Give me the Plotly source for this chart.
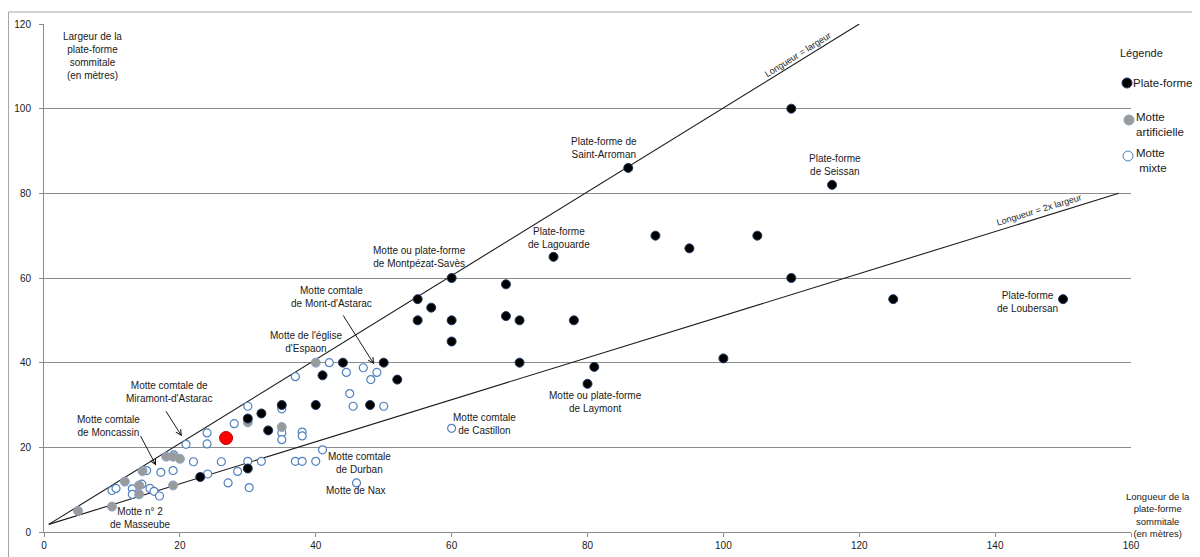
import plotly.graph_objects as go

# ---------------- data ----------------
plate_x = [86, 110, 116, 90, 95, 105, 110, 125, 100, 150, 75, 60, 68, 55, 57, 55, 60, 68, 70, 78,
           60, 70, 81, 80, 44, 50, 41, 52, 48, 40, 35, 32, 30, 33, 30, 23]
plate_y = [86, 100, 82, 70, 67, 70, 60, 55, 41, 55, 65, 60, 58.5, 55, 53, 50, 50, 51, 50, 50,
           45, 40, 39, 35, 40, 40, 37, 36, 30, 30, 30, 28, 26.8, 24, 15, 13]

artif_x = [5, 10, 11.9, 14, 14, 14.5, 18, 19, 20, 19, 30, 35, 40]
artif_y = [5, 6, 11.9, 11, 8.9, 14.4, 17.8, 17.8, 17.3, 11, 25.9, 24.8, 40]

mixte_x = [10, 10.6, 13, 13, 14.4, 15.6, 16.2, 17, 15.1, 17.2, 19, 19.1, 20.9, 22, 24, 24, 26.1,
           24.1, 27.1, 28.5, 28, 30.2, 42, 37, 44.5, 47, 49, 48.1, 45, 45.5, 50, 35, 30, 35, 35,
           38, 38, 41, 30, 32, 37, 38, 40, 46, 60]
mixte_y = [9.8, 10.3, 10.2, 8.9, 11.3, 10.3, 9.6, 8.5, 14.5, 14.1, 14.5, 18.2, 20.7, 16.6, 23.4,
           20.8, 16.6, 13.7, 11.6, 14.3, 25.6, 10.5, 40, 36.7, 37.7, 38.8, 37.7, 36, 32.7, 29.7,
           29.7, 29.1, 29.7, 23.4, 21.8, 23.6, 22.7, 19.4, 16.7, 16.7, 16.7, 16.7, 16.7, 11.6, 24.5]

red_x = [26.8]
red_y = [22.2]

# reference lines (hand-drawn in original)
ref1_x = [0.7, 120]
ref1_y = [1.8, 120]
ref2_x = [0.7, 158.2]
ref2_y = [1.8, 80]

x_ticks = [0, 20, 40, 60, 80, 100, 120, 140, 160]
y_ticks = [0, 20, 40, 60, 80, 100, 120]

# site labels: text, x, y
site_labels = [
    ("Plate-forme de<br>Saint-Arroman", 82.4, 90.6),
    ("Plate-forme<br>de Seissan", 116.5, 86.8),
    ("Motte ou plate-forme<br>de Montpézat-Savès", 55.2, 64.9),
    ("Plate-forme<br>de Lagouarde", 75.8, 69.4),
    ("Plate-forme<br>de Loubersan", 144.8, 54.4),
    ("Motte comtale<br>de Mont-d'Astarac", 42.3, 55.4),
    ("Motte de l'église<br>d'Espaon", 38.6, 45.0),
    ("Motte ou plate-forme<br>de Laymont", 81.2, 30.6),
    ("Motte comtale<br>de Castillon", 64.8, 25.6),
    ("Motte comtale de<br>Miramont-d'Astarac", 18.4, 33.0),
    ("Motte comtale<br>de Moncassin", 9.5, 25.1),
    ("Motte comtale<br>de Durban", 46.4, 16.4),
    ("Motte de Nax", 45.9, 9.8),
    ("Motte n° 2<br>de Masseube", 14.2, 3.3),
]

# arrows: tail(x,y) -> tip(x,y)
arrows = [
    (17.8, 28.9, 20.3, 22.6),
    (14.1, 23.0, 16.5, 15.7),
    (43.9, 51.5, 48.6, 39.6),
]

FONT = "Liberation Sans"
TXT = "#1a1a1a"
GRID = "#8c8c8c"

# figure geometry (page has an 8px body margin, so screen = figure + 8)
OFF = 8
W, H = 1200, 557
L, R, T, B = 36, 77, 16, 33
pw = W - L - R
ph = H - T - B


def px(p):
    return (p - OFF - L) / pw


def py(p):
    return (H - B - (p - OFF)) / ph


fig = go.Figure()

fig.add_trace(go.Scatter(x=ref1_x, y=ref1_y, mode="lines",
                         line=dict(color="#1a1a1a", width=1.1), showlegend=False, hoverinfo="skip"))
fig.add_trace(go.Scatter(x=ref2_x, y=ref2_y, mode="lines",
                         line=dict(color="#1a1a1a", width=1.1), showlegend=False, hoverinfo="skip"))

fig.add_trace(go.Scatter(x=mixte_x, y=mixte_y, mode="markers", name="Motte mixte",
                         marker=dict(size=8, color="white", line=dict(color="#4f81bd", width=1.2)),
                         showlegend=False))
fig.add_trace(go.Scatter(x=artif_x, y=artif_y, mode="markers", name="Motte artificielle",
                         marker=dict(size=9, color="#9a9a9a", line=dict(color="#8aa4c8", width=1)),
                         showlegend=False))
fig.add_trace(go.Scatter(x=plate_x, y=plate_y, mode="markers", name="Plate-forme",
                         marker=dict(size=9, color="#000000", line=dict(color="#1f3a60", width=1)),
                         showlegend=False))
fig.add_trace(go.Scatter(x=red_x, y=red_y, mode="markers",
                         marker=dict(size=13, color="#ff0000", line=dict(color="#c00000", width=1)),
                         showlegend=False))

annotations = []
for t, x, y in site_labels:
    annotations.append(dict(x=x, y=y, xref="x", yref="y", text=t, showarrow=False,
                            xanchor="center", yanchor="middle",
                            font=dict(family=FONT, size=10, color=TXT), align="center"))
for ax, ay, x, y in arrows:
    annotations.append(dict(x=x, y=y, ax=ax, ay=ay, xref="x", yref="y", axref="x", ayref="y",
                            text="", showarrow=True, arrowhead=5, arrowsize=1.1, arrowwidth=1,
                            arrowcolor="#1a1a1a", standoff=0, startstandoff=0))

# line labels
annotations.append(dict(x=111.5, y=111.2, xref="x", yref="y", text="Longueur = largeur",
                        showarrow=False, textangle=-32, xshift=-4, yshift=6,
                        xanchor="center", yanchor="middle",
                        font=dict(family=FONT, size=9, color=TXT)))
annotations.append(dict(x=146.7, y=74.4, xref="x", yref="y", text="Longueur = 2x largeur",
                        showarrow=False, textangle=-17, xshift=-2, yshift=7,
                        xanchor="center", yanchor="middle",
                        font=dict(family=FONT, size=9, color=TXT)))

# axis titles
annotations.append(dict(x=7.1, y=112.4, xref="x", yref="y",
                        text="Largeur de la<br>plate-forme<br>sommitale<br>(en mètres)",
                        showarrow=False, align="center", xanchor="center", yanchor="middle",
                        font=dict(family=FONT, size=10, color=TXT)))
annotations.append(dict(x=px(1158), y=py(515), xref="paper", yref="paper",
                        text="Longueur de la<br>plate-forme<br>sommitale<br>(en mètres)",
                        showarrow=False, align="center", xanchor="center", yanchor="middle",
                        font=dict(family=FONT, size=9.5, color=TXT)))

# legend (drawn manually)
annotations.append(dict(x=px(1141), y=py(53), xref="paper", yref="paper", text="Légende",
                        showarrow=False, xanchor="center", yanchor="middle",
                        font=dict(family=FONT, size=11, color=TXT)))
annotations.append(dict(x=px(1131), y=py(83), xref="paper", yref="paper", text="Plate-forme",
                        showarrow=False, xanchor="left", yanchor="middle",
                        font=dict(family=FONT, size=11.5, color=TXT)))
annotations.append(dict(x=px(1134), y=py(125), xref="paper", yref="paper", text="Motte<br>artificielle",
                        showarrow=False, xanchor="left", yanchor="middle", align="left",
                        font=dict(family=FONT, size=11.5, color=TXT)))
annotations.append(dict(x=px(1134), y=py(161), xref="paper", yref="paper", text="Motte<br> mixte",
                        showarrow=False, xanchor="left", yanchor="middle", align="left",
                        font=dict(family=FONT, size=11.5, color=TXT)))

shapes = []


def legend_dot(cx, cy, r, fill, line):
    shapes.append(dict(type="circle", xref="paper", yref="paper", xsizemode="pixel", ysizemode="pixel",
                       xanchor=px(cx), yanchor=py(cy), x0=-r, x1=r, y0=-r, y1=r,
                       fillcolor=fill, line=dict(color=line, width=1)))


legend_dot(1127, 83, 5, "#000000", "#1f3a60")
legend_dot(1129, 120, 5, "#9a9a9a", "#8aa4c8")
legend_dot(1128, 156, 5, "white", "#4f81bd")

# outer chart border (left & top visible)
shapes.append(dict(type="line", xref="paper", yref="paper", x0=px(8.5), x1=px(8.5), y0=py(12), y1=py(600),
                   line=dict(color="#a6a6a6", width=1)))
shapes.append(dict(type="line", xref="paper", yref="paper", x0=px(8.5), x1=px(1250), y0=py(12), y1=py(12),
                   line=dict(color="#a6a6a6", width=1)))

fig.update_layout(
    width=W, height=H,
    margin=dict(l=L, r=R, t=T, b=B, pad=0),
    paper_bgcolor="white", plot_bgcolor="white",
    font=dict(family=FONT, size=10, color=TXT),
    showlegend=False,
    annotations=annotations,
    shapes=shapes,
    xaxis=dict(range=[0, 160], tickvals=x_ticks, ticktext=[str(v) for v in x_ticks],
               showgrid=False, zeroline=False, showline=True, linecolor=GRID, linewidth=1,
               ticks="outside", ticklen=4, tickcolor=GRID, tickfont=dict(size=10, color=TXT),
               automargin=False, fixedrange=True),
    yaxis=dict(range=[0, 120], tickvals=y_ticks, ticktext=[str(v) for v in y_ticks],
               showgrid=True, gridcolor=GRID, gridwidth=1, zeroline=False, showline=True,
               linecolor=GRID, linewidth=1, ticks="outside", ticklen=4, tickcolor=GRID,
               ticklabelstandoff=6, tickfont=dict(size=10, color=TXT),
               automargin=False, fixedrange=True),
)

fig.write_html("out.html")
